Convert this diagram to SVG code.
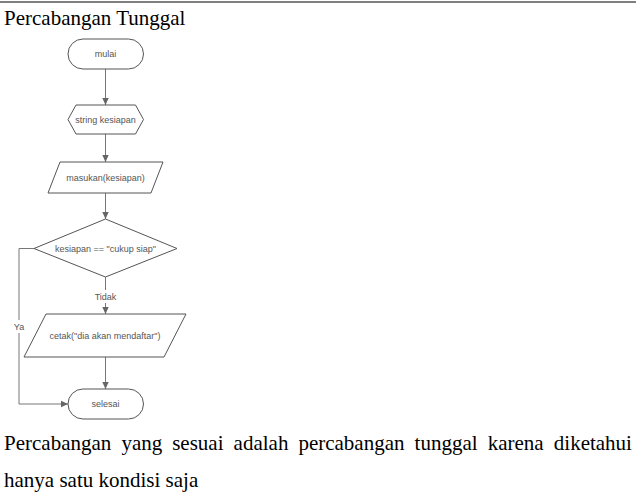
<svg xmlns="http://www.w3.org/2000/svg" width="636" height="498" viewBox="0 0 636 498">
<style>
.doc{font-family:"Liberation Serif","Times New Roman",serif;font-size:21px;fill:#000}
.sh{fill:#fff;stroke:#555;stroke-width:1}
.lbl{font-family:"Liberation Sans",Arial,sans-serif;font-size:9px;fill:#555;text-anchor:middle;dominant-baseline:central}
.ln{fill:none;stroke:#777;stroke-width:1}
</style>
<defs>
<marker id="ah" markerWidth="8" markerHeight="8" refX="7" refY="4" orient="auto" markerUnits="userSpaceOnUse">
<path d="M0,0.8 L7,4 L0,7.2 Z" fill="#666"/>
</marker>
</defs>
<rect width="636" height="498" fill="#fff"/>
<line x1="0" y1="2" x2="636" y2="2" stroke="#000" stroke-width="1.2"/>
<text class="doc" x="4" y="25">Percabangan Tunggal</text>

<g id="connectors">
<line class="ln" x1="105.5" y1="69" x2="105.5" y2="105" marker-end="url(#ah)"/>
<line class="ln" x1="105.5" y1="134" x2="105.5" y2="162" marker-end="url(#ah)"/>
<line class="ln" x1="105.5" y1="193" x2="105.5" y2="219" marker-end="url(#ah)"/>
<line class="ln" x1="105.5" y1="277" x2="105.5" y2="290"/>
<line class="ln" x1="105.5" y1="303" x2="105.5" y2="314" marker-end="url(#ah)"/>
<text class="lbl" x="105.5" y="296.5">Tidak</text>
<line class="ln" x1="105.5" y1="357" x2="105.5" y2="389" marker-end="url(#ah)"/>
<polyline class="ln" points="34,248.5 19,248.5 19,320"/>
<polyline class="ln" points="19,333 19,404 68,404" marker-end="url(#ah)"/>
<text class="lbl" x="19" y="326.5">Ya</text>
</g>

<g id="mulai">
<rect class="sh" x="68" y="39" width="75.5" height="30" rx="15"/>
<text class="lbl" x="105.5" y="54">mulai</text>
</g>
<g id="string-kesiapan">
<polygon class="sh" points="68,119.5 76,105 135.5,105 143.5,119.5 135.5,134 76,134"/>
<text class="lbl" x="105.5" y="119.5">string kesiapan</text>
</g>
<g id="masukan">
<polygon class="sh" points="60,162 163,162 151,193 48,193"/>
<text class="lbl" x="105.5" y="177.5">masukan(kesiapan)</text>
</g>
<g id="kondisi">
<polygon class="sh" points="105.5,219 177,248.5 105.5,277 34,248.5"/>
<text class="lbl" x="105.5" y="248.5">kesiapan == "cukup siap"</text>
</g>
<g id="cetak">
<polygon class="sh" points="46,314 186,314 164,357 24,357"/>
<text class="lbl" x="105" y="336">cetak("dia akan mendaftar")</text>
</g>
<g id="selesai">
<rect class="sh" x="68" y="389" width="75.5" height="30" rx="15"/>
<text class="lbl" x="105.5" y="404">selesai</text>
</g>

<text class="doc" y="450"><tspan x="4">Percabangan</tspan><tspan x="121.4">yang</tspan><tspan x="172.2">sesuai</tspan><tspan x="233.6">adalah</tspan><tspan x="298.4">percabangan</tspan><tspan x="414.6">tunggal</tspan><tspan x="487.7">karena</tspan><tspan x="553.8">diketahui</tspan></text>
<text class="doc" x="4" y="487">hanya satu kondisi saja</text>
</svg>
